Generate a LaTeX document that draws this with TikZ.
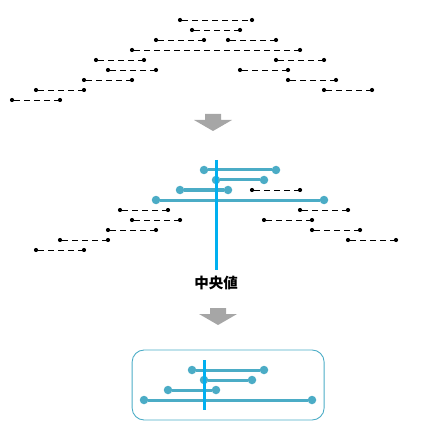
\documentclass[tikz,border=0pt]{standalone}
\usepackage{fontspec}
\newfontfamily\cjk{Noto Sans CJK JP}
\usetikzlibrary{positioning}
\definecolor{segblue}{HTML}{4BACC6}
\definecolor{medblue}{HTML}{00B0F0}
\definecolor{arrgray}{HTML}{A6A6A6}
\tikzset{
    downarr/.pic={
        \fill[arrgray] (-8pt,0pt) -- (8pt,0pt) -- (8pt,-6pt) -- (19pt,-6pt)
            -- (0pt,-17pt) -- (-19pt,-6pt) -- (-8pt,-6pt) -- cycle;
    }
}
\begin{document}
\begin{tikzpicture}[
    x=12pt, y=-10pt,
    dot/.style={
        circle,
        fill=black,
        inner sep=0pt,
        minimum size=4.2pt
    },
    bdot/.style={
        circle,
        fill=segblue,
        inner sep=0pt,
        minimum size=8.5pt
    },
    ival/.style={
        draw=black,
        line width=0.9pt,
        dash pattern=on 6pt off 4pt
    },
    hit/.style={
        draw=segblue,
        line width=3pt
    },
    med/.style={
        draw=medblue,
        line width=3pt
    },
    resbox/.style={
        draw=segblue,
        line width=0.9pt,
        rounded corners=12pt,
        minimum width=192pt,
        minimum height=70pt
    },
    medlabel/.style={
        font={\cjk\bfseries\fontsize{14.5}{16}\selectfont},
        inner sep=0pt
    }
]
\useasboundingbox (0,0) rectangle (35.25,43.8);

\foreach \a/\b/\r [count=\i] in {15/21/2, 16/20/3, 13/17/4, 19/23/4, 11/25/5,
    8/12/6, 23/27/6, 9/13/7, 20/24/7, 7/11/8, 24/28/8, 3/7/9, 27/31/9, 1/5/10} {
    \node[dot] (t\i-a) at (\a,\r) {};
    \node[dot] (t\i-b) at (\b,\r) {};
    \draw[ival] (t\i-a) -- (t\i-b);
}

\pic at (17.75,11.4) {downarr};

\foreach \a/\b/\r [count=\i] in {21/25/19, 10/14/21, 25/29/21, 11/15/22, 22/26/22,
    9/13/23, 26/30/23, 5/9/24, 29/33/24, 3/7/25} {
    \node[dot] (m\i-a) at (\a,\r) {};
    \node[dot] (m\i-b) at (\b,\r) {};
    \draw[ival] (m\i-a) -- (m\i-b);
}

\foreach \a/\b/\r [count=\i] in {17/23/17, 18/22/18, 15/19/19, 13/27/20} {
    \node[bdot] (h\i-a) at (\a,\r) {};
    \node[bdot] (h\i-b) at (\b,\r) {};
    \draw[hit] (h\i-a) -- (h\i-b);
}

\coordinate (medtop) at (18,16);
\coordinate (medbot) at (18,27);
\draw[med] (medtop) -- (medbot);

\node[medlabel, below=6pt of medbot] (medtext) {中央値};

\pic at (18.17,30.8) {downarr};

\node[resbox] (box) at (19.01,38.5) {};

\foreach \a/\b/\r [count=\i] in {16/22/37, 17/21/38, 14/18/39, 12/26/40} {
    \node[bdot] (r\i-a) at (\a,\r) {};
    \node[bdot] (r\i-b) at (\b,\r) {};
    \draw[hit] (r\i-a) -- (r\i-b);
}

\coordinate (restop) at (17,36);
\coordinate (resbot) at (17,41);
\draw[med] (restop) -- (resbot);

\end{tikzpicture}
\end{document}
